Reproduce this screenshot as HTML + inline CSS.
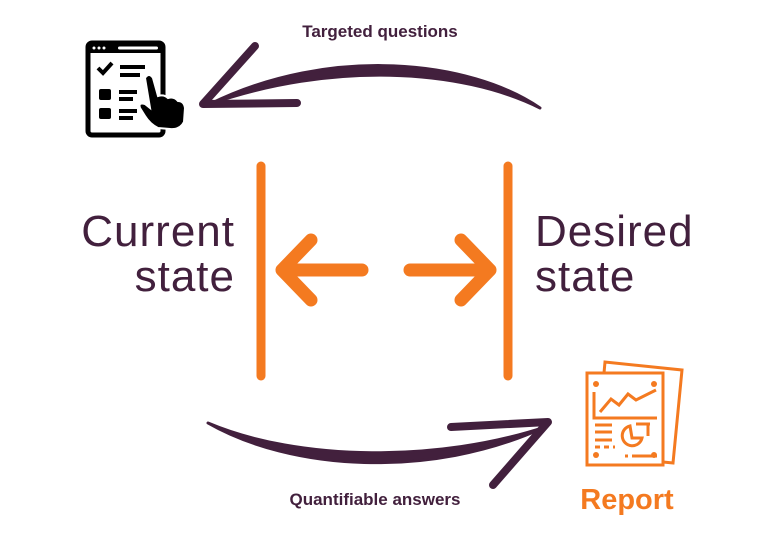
<!DOCTYPE html>
<html><head><meta charset="utf-8"><style>
html,body{margin:0;padding:0;background:#fff;}
svg{display:block}
</style></head><body>
<svg width="768" height="543" viewBox="0 0 768 543" xmlns="http://www.w3.org/2000/svg">
<!-- top arrow -->
<path d="M540,108 C470,60 330,45 210,104 C330,62 460,68 540,108 Z" fill="#42203d" stroke="#42203d" stroke-width="3" stroke-linejoin="round"/>
<path d="M255,46 L203,104 L297,103" fill="none" stroke="#42203d" stroke-width="8" stroke-linecap="round" stroke-linejoin="round"/>
<text x="380" y="37" font-family="Liberation Sans, sans-serif" font-weight="bold" font-size="17" fill="#42203d" text-anchor="middle">Targeted questions</text>
<!-- checklist icon -->
<rect x="88" y="43" width="75" height="92" rx="4" fill="none" stroke="#000" stroke-width="5"/>
<rect x="88" y="43" width="75" height="10" fill="#000"/>
<circle cx="94" cy="48" r="1.5" fill="#fff"/><circle cx="99" cy="48" r="1.5" fill="#fff"/><circle cx="104" cy="48" r="1.5" fill="#fff"/>
<rect x="118" y="46.5" width="40" height="3" rx="1.5" fill="#fff"/>
<path d="M98,68 L103,73 L112,63" fill="none" stroke="#000" stroke-width="4"/>
<rect x="120" y="65" width="25" height="4" fill="#000"/><rect x="120" y="73" width="20" height="4" fill="#000"/>
<rect x="99" y="89" width="12" height="11" rx="2" fill="#000"/><rect x="119" y="90" width="18" height="4" fill="#000"/><rect x="119" y="97" width="14" height="4" fill="#000"/>
<rect x="99" y="108" width="12" height="11" rx="2" fill="#000"/><rect x="119" y="109" width="18" height="4" fill="#000"/><rect x="119" y="116" width="14" height="4" fill="#000"/>
<path d="M145,78 Q149,72 153,78 L158,96 Q164,94 168,98 Q174,96 178,101 Q184,101 185,108 L184,122 Q180,130 170,129 L158,128 Q150,124 145,116 L140,108 Q138,102 145,104 L150,108 Z" fill="#000" stroke="#fff" stroke-width="2"/>
<!-- bars -->
<line x1="261" y1="166" x2="261" y2="376" stroke="#f47a20" stroke-width="9" stroke-linecap="round"/>
<line x1="508" y1="166" x2="508" y2="376" stroke="#f47a20" stroke-width="9" stroke-linecap="round"/>
<!-- inner arrows -->
<g fill="none" stroke="#f47a20" stroke-width="13" stroke-linecap="round" stroke-linejoin="round">
<path d="M362,270 L282,270 M311,240 L282,270 L311,300"/>
<path d="M410,270 L490,270 M461,240 L490,270 L461,300"/>
</g>
<g font-family="Liberation Sans, sans-serif" font-size="44" fill="#42203d" letter-spacing="1">
<text x="235" y="246" text-anchor="end">Current</text>
<text x="235" y="291" text-anchor="end">state</text>
<text x="535" y="246">Desired</text>
<text x="535" y="291">state</text>
</g>
<!-- bottom arrow -->
<path d="M208,423 C290,470 430,480 545,427 C440,462 300,462 208,423 Z" fill="#42203d" stroke="#42203d" stroke-width="3" stroke-linejoin="round"/>
<path d="M451,427 L548,422 L493,485" fill="none" stroke="#42203d" stroke-width="8" stroke-linecap="round" stroke-linejoin="round"/>
<text x="375" y="505" font-family="Liberation Sans, sans-serif" font-weight="bold" font-size="17" fill="#42203d" text-anchor="middle">Quantifiable answers</text>
<!-- report icon -->
<g fill="none" stroke="#f47a20" stroke-width="3">
<path d="M604,373 L605,362 L682,370 L673,463 L663,462"/>
<rect x="587" y="373" width="76" height="92"/>
<path d="M594,392 L594,418 L657,418"/>
<path d="M600,412 L611,399 L619,405 L628,394 L636,400 L656,390"/>
<path d="M595,425 L612,425 M595,432 L612,432 M595,440 L612,440"/>
<path d="M595,447 L600,447 M604,447 L609,447 M613,447 L615,447"/>
<path d="M630,426 A10,10 0 1 0 642,438 L632,438 Z"/>
<path d="M636,424 L650,424 M648,424 L648,436"/>
<path d="M625,456 L628,456 M632,456 L657,456"/>
</g>
<g fill="#f47a20"><circle cx="596" cy="384" r="3"/><circle cx="654" cy="384" r="3"/><circle cx="596" cy="455" r="3"/><circle cx="654" cy="455" r="3"/></g>
<text x="627" y="509" font-family="Liberation Sans, sans-serif" font-weight="bold" font-size="29" fill="#f47a20" text-anchor="middle">Report</text>
</svg>
</body></html>
